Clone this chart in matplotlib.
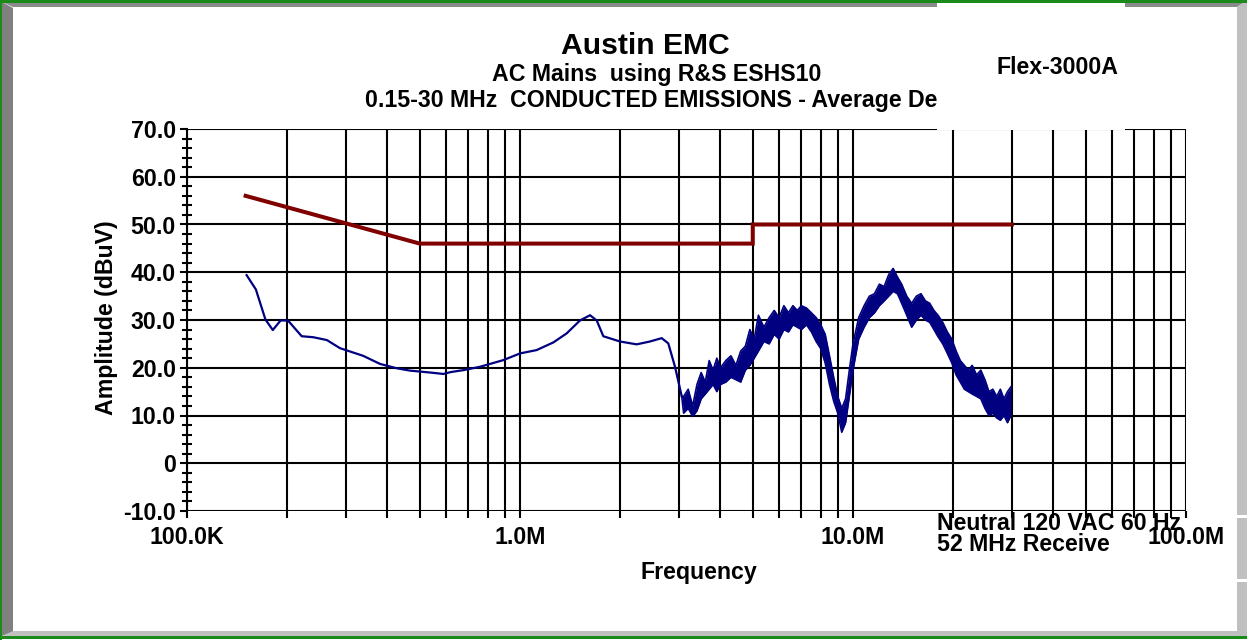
import matplotlib
matplotlib.use("Agg")
import matplotlib.pyplot as plt
from matplotlib.patches import Rectangle, Polygon
from matplotlib.ticker import FixedLocator, NullFormatter

plt.rcParams['font.family'] = ['Liberation Sans', 'DejaVu Sans']
plt.rcParams['font.weight'] = 'bold'

# --- Données (MHz, dBuV) ---
# limite moyenne (CISPR)
limit_f = [0.15, 0.5, 5.0, 5.0, 30.0]
limit_db = [56.0, 46.0, 46.0, 50.0, 50.0]

# trace lisse 0.15 - 3 MHz
trace_f = [0.151, 0.161, 0.172, 0.181, 0.191, 0.201, 0.221, 0.239, 0.263, 0.288,
           0.338, 0.380, 0.426, 0.467, 0.537, 0.589, 0.620, 0.676, 0.758, 0.891,
           1.0, 1.122, 1.259, 1.381, 1.514, 1.623, 1.70, 1.779, 1.996, 2.24,
           2.457, 2.664, 2.788, 2.921, 3.06]
trace_db = [39.4, 36.4, 30.1, 27.9, 29.9, 29.9, 26.6, 26.4, 25.8, 24.1,
            22.5, 20.8, 19.9, 19.4, 19.0, 18.7, 19.1, 19.5, 20.2, 21.6,
            23.0, 23.7, 25.3, 27.2, 29.9, 31.0, 29.9, 26.6, 25.5, 24.9,
            25.5, 26.2, 25.1, 20.2, 14.0]

# partie bruitée 3 - 30 MHz : enveloppe haute / basse
noise_f = [3.06, 3.1, 3.2, 3.3, 3.4, 3.5, 3.6, 3.7, 3.8, 3.9, 4.0,
           4.15, 4.3, 4.45, 4.6, 4.75, 4.9, 5.05, 5.2, 5.4, 5.6,
           5.8, 6.0, 6.2, 6.4, 6.6, 6.8, 7.0, 7.25, 7.5, 7.75,
           8.0, 8.25, 8.5, 8.75, 9.0, 9.25, 9.5, 9.75, 10.0, 10.4,
           10.8, 11.2, 11.6, 12.0, 12.4, 12.8, 13.2, 13.6, 14.0, 14.5,
           15.0, 15.5, 16.0, 16.5, 17.0, 17.5, 18.0, 18.6, 19.2, 19.8,
           20.4, 21.0, 21.6, 22.2, 22.8, 23.5, 24.2, 24.9, 25.6, 26.3,
           27.0, 27.7, 28.4, 29.1, 29.8]
noise_hi = [14.0, 14.0, 15.5, 12.0, 16.5, 19.0, 17.0, 21.5, 19.5, 22.0, 20.0,
            21.5, 22.5, 20.5, 23.5, 24.5, 28.0, 26.0, 31.0, 28.5, 30.5,
            32.0, 30.5, 33.0, 31.5, 33.0, 32.0, 33.0, 32.5, 31.5, 30.5,
            29.0, 27.0, 22.5, 18.0, 14.0, 11.5, 13.5, 19.5, 25.0, 30.5,
            33.0, 35.0, 35.5, 37.5, 37.0, 39.5, 40.8, 39.0, 37.5, 35.0,
            33.5, 35.0, 35.5, 34.0, 33.5, 32.0, 31.0, 29.5, 27.5, 26.0,
            23.5, 21.5, 20.5, 19.5, 20.5, 18.5, 19.5, 17.5, 15.0, 15.5,
            14.0, 15.5, 13.5, 15.0, 16.0]
noise_lo = [14.0, 10.5, 11.5, 9.8, 11.0, 13.5, 14.5, 15.5, 16.5, 15.0, 16.5,
            17.0, 18.0, 17.5, 17.0, 19.5, 20.5, 22.0, 23.5, 25.5, 25.0,
            27.0, 26.0, 28.0, 27.5, 29.0, 28.5, 28.0, 29.0, 27.5, 25.5,
            24.0, 21.0, 16.5, 13.0, 10.5, 6.5, 8.5, 14.0, 19.5, 26.0,
            28.5, 30.5, 31.5, 33.0, 34.0, 35.0, 36.0, 35.5, 33.5, 31.0,
            28.5, 30.0, 31.0, 30.0, 29.5, 28.0, 26.5, 25.0, 23.0, 21.0,
            18.5, 17.0, 15.5, 15.0, 14.5, 14.0, 13.5, 11.5, 10.0, 10.5,
            9.5, 9.0, 10.0, 8.5, 10.0]

x_ticks = [1e5, 1e6, 1e7, 1e8]
x_labels = ["100.0K", "1.0M", "10.0M", "100.0M"]
y_ticks = [-10, 0, 10, 20, 30, 40, 50, 60, 70]
y_labels = ["-10.0", "0", "10.0", "20.0", "30.0", "40.0", "50.0", "60.0", "70.0"]

W, H = 1247, 640
fig = plt.figure(figsize=(W / 100, H / 100), dpi=100)

# --- Zone du graphe ---
ax = fig.add_axes([187 / W, 1 - 511 / H, 999 / W, 382 / H])
ax.set_xscale('log')
ax.set_xlim(1e5, 1e8)
ax.set_ylim(-10, 70)

MHz = 1e6
ax.plot([f * MHz for f in limit_f], limit_db, color='#800000', lw=2.9,
        solid_joinstyle='miter', zorder=4)
ax.plot([f * MHz for f in trace_f], trace_db, color='#000080', lw=1.6, zorder=5)
nf = [f * MHz for f in noise_f]
ax.fill_between(nf, noise_lo, noise_hi, color='#000080', lw=0, zorder=5)
ax.plot(nf, noise_hi, color='#000080', lw=1.2, zorder=5)
ax.plot(nf, noise_lo, color='#000080', lw=1.2, zorder=5)

# grille
ax.xaxis.set_major_locator(FixedLocator(x_ticks))
ax.xaxis.set_minor_locator(FixedLocator([m * 10 ** e for e in (5, 6, 7) for m in range(2, 10)]))
ax.xaxis.set_minor_formatter(NullFormatter())
ax.set_xticklabels(x_labels)
ax.yaxis.set_major_locator(FixedLocator(y_ticks))
ax.set_yticklabels(y_labels)
ax.yaxis.set_minor_locator(FixedLocator([v for v in range(-10, 71, 2) if v % 10 != 0]))

ax.grid(True, which='major', color='black', lw=1.5)
ax.grid(True, which='minor', axis='x', color='black', lw=1.5)
for s in ['top', 'right', 'bottom']:
    ax.spines[s].set_visible(False)
ax.spines['left'].set_linewidth(1.5)

ax.tick_params(axis='y', which='major', direction='out', length=5, width=1.5,
               labelsize=16.7, pad=3)
ax.tick_params(axis='x', which='major', direction='out', length=5, width=1.5,
               labelsize=16.7, pad=6)
ax.tick_params(axis='x', which='minor', direction='out', length=5, width=1.5)
ax.tick_params(axis='y', which='minor', direction='inout', length=7, width=1.5)
for lab in ax.get_xticklabels() + ax.get_yticklabels():
    lab.set_fontweight('bold')

# --- Textes ---
fig.text(645 / W, 1 - 46 / H, "Austin EMC", ha='center', va='center', fontsize=21.7, weight='bold')
fig.text(657 / W, 1 - 74 / H, "AC Mains  using R&S ESHS10", ha='center', va='center', fontsize=16.7, weight='bold')
fig.text(937 / W, 1 - 100 / H, "0.15-30 MHz  CONDUCTED EMISSIONS - Average De", ha='right', va='center',
         fontsize=16.7, weight='bold')
fig.text(107 / W, 1 - 318 / H, "Amplitude (dBuV)", ha='center', va='center', rotation=90,
         fontsize=16.7, weight='bold')
fig.text(699 / W, 1 - 573 / H, "Frequency", ha='center', va='center', fontsize=16.7, weight='bold')
fig.text(937 / W, 1 - 530 / H, "Neutral 120 VAC 60 Hz", ha='left', va='baseline', fontsize=16.7, weight='bold')
fig.text(937 / W, 1 - 551 / H, "52 MHz Receive", ha='left', va='baseline', fontsize=16.7, weight='bold')

# --- Cadre de la fenêtre (coordonnées pixels) ---
fr = fig.add_axes([0, 0, 1, 1], zorder=5)
fr.set_xlim(0, W)
fr.set_ylim(H, 0)
fr.axis('off')
fr.patch.set_visible(False)

# cache blanc en haut à droite
fr.add_patch(Rectangle((937, 2), 188, 127.5, color='white', lw=0))
# bords gris
fr.add_patch(Polygon([(2, 2), (13, 8), (13, 632), (2, 636)], closed=True, color='#808080', lw=0))
fr.add_patch(Polygon([(2, 2), (937, 2), (937, 7), (13, 7)], closed=True, color='#8a8a8a', lw=0))
fr.add_patch(Polygon([(1125, 2), (1245, 2), (1237, 7), (1125, 7)], closed=True, color='#8a8a8a', lw=0))
fr.add_patch(Polygon([(1245, 2), (1247, 2), (1247, 636), (1237, 636), (1237, 7)], closed=True,
                     color='#c0c0c0', lw=0))
fr.add_patch(Polygon([(2, 636), (13, 631), (1237, 631), (1247, 636)], closed=True, color='#c0c0c0', lw=0))
fr.add_patch(Rectangle((1237, 515), 10, 3, color='white', lw=0))
fr.add_patch(Rectangle((1237, 579), 10, 3, color='white', lw=0))
# liseré vert
fr.add_patch(Rectangle((0, 0), W, 2.5, color='#1a8a1a', lw=0))
fr.add_patch(Rectangle((0, 0), 2, H, color='#1a8a1a', lw=0))
fr.add_patch(Rectangle((0, 635.5), W, 3, color='#1a8a1a', lw=0))

fr.text(1058, 68, "Flex-3000A", ha='center', va='center', fontsize=16.7, weight='bold')

fig.savefig("out.png", dpi=100)
